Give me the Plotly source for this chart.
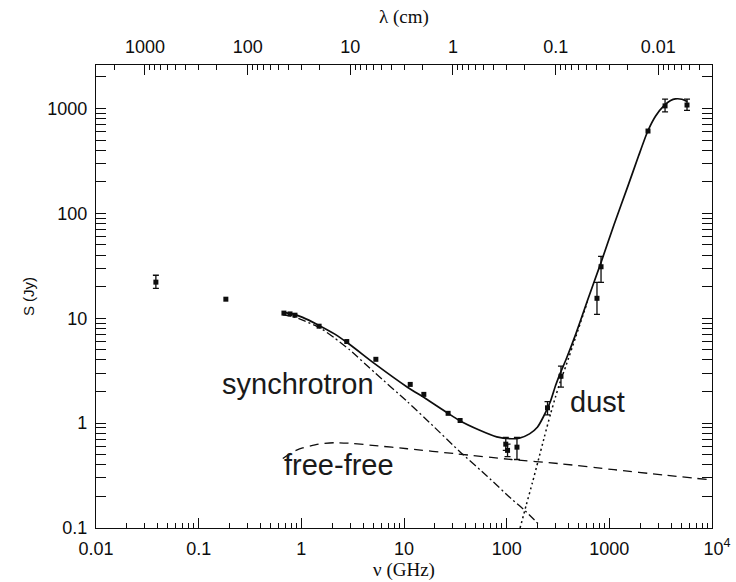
import numpy as np
import plotly.graph_objects as go

# ---------------- data ----------------
# observed points with error bars: frequency (GHz), flux (Jy), +err, -err
nu_err = [0.0383, 98, 102, 126, 250, 338, 758, 830, 3490, 5710]
S_err = [22.1, 0.63, 0.55, 0.59, 1.40, 2.80, 15.5, 31.0, 1060, 1080]
err_hi = [3.6, 0.10, 0.08, 0.14, 0.20, 0.70, 6.5, 8.0, 170, 150]
err_lo = [2.8, 0.08, 0.07, 0.14, 0.20, 0.60, 4.6, 9.0, 130, 120]

# observed points without visible error bars
nu_pts = [0.184, 0.677, 0.776, 0.867, 1.49, 2.77, 5.32, 11.5, 15.6, 26.9, 35.2, 2380]
S_pts = [15.2, 11.2, 11.0, 10.7, 8.4, 6.0, 4.06, 2.34, 1.88, 1.24, 1.06, 610]

# total model (solid)
nu_tot = [0.66, 0.82, 1.03, 1.47, 2.1, 2.94, 5.25, 10.8, 16.2, 25.9, 34.6, 54, 80, 111,
          133, 167, 200, 228, 266, 300, 333, 377, 472, 610, 821, 1110, 1525, 1920,
          2370, 2825, 3390, 3955, 4400, 5085, 5760]
S_tot = [11.4, 11.0, 10.2, 8.6, 7.1, 5.65, 3.65, 2.2, 1.72, 1.27, 1.06, 0.86, 0.74,
         0.71, 0.72, 0.79, 0.92, 1.15, 1.6, 2.3, 3.0, 4.0, 7.1, 14.6, 33, 78, 185,
         350, 610, 850, 1060, 1190, 1235, 1225, 1160]

# synchrotron (dash-dot)
nu_syn = [0.66, 0.82, 1.03, 1.52, 2.1, 2.95, 5.25, 10.8, 19.2, 34.6, 65, 111, 145, 212]
S_syn = [10.8, 10.4, 9.6, 8.1, 6.5, 5.0, 3.0, 1.6, 0.94, 0.54, 0.31, 0.19, 0.152, 0.105]

# free-free (dashed)
nu_ff = [0.66, 0.82, 1.03, 1.47, 2.1, 3.15, 5.25, 10.8, 32.4, 111, 333, 1110, 3390, 9000]
S_ff = [0.46, 0.53, 0.58, 0.63, 0.65, 0.64, 0.61, 0.57, 0.51, 0.45, 0.41, 0.36, 0.32, 0.29]

# dust (dotted)
nu_dust = [135, 155, 178, 203, 233, 266, 300, 333, 377, 472, 610]
S_dust = [0.1, 0.165, 0.27, 0.44, 0.74, 1.2, 1.8, 2.5, 3.5, 6.7, 14.2]

nu_ticks = [0.01, 0.1, 1, 10, 100, 1000, 10000]
nu_ticktext = ["0.01", "0.1", "1", "10", "100", "1000", "&nbsp;&nbsp;10<sup>4</sup>"]
S_ticks = [0.1, 1, 10, 100, 1000]
S_ticktext = ["0.1", "1", "10", "100", "1000"]
lam_ticks = [1000, 100, 10, 1, 0.1, 0.01]
lam_ticktext = ["1000", "100", "10", "1", "0.1", "0.01"]

labels = [("synchrotron", 0.93, 2.36), ("free-free", 2.33, 0.40), ("dust", 760, 1.59)]

# ---------------- figure ----------------
INK = "#0d0d0d"
SANS = "Liberation Sans, Arial, sans-serif"
SERIF = "Liberation Serif, Times New Roman, serif"


def minor_vals(lo, hi):
    return [m * 10.0 ** e for e in range(lo, hi) for m in range(2, 10)]


fig = go.Figure()
fig.add_trace(go.Scatter(x=nu_syn, y=S_syn, mode="lines",
                         line=dict(color=INK, width=1.3, dash="8px,3px,2px,3px", shape="spline", smoothing=0.6),
                         hoverinfo="skip"))
fig.add_trace(go.Scatter(x=nu_ff, y=S_ff, mode="lines",
                         line=dict(color=INK, width=1.3, dash="9px,6px", shape="spline", smoothing=0.6),
                         hoverinfo="skip"))
fig.add_trace(go.Scatter(x=nu_dust, y=S_dust, mode="lines",
                         line=dict(color=INK, width=1.5, dash="2px,3px", shape="spline", smoothing=0.6),
                         hoverinfo="skip"))
fig.add_trace(go.Scatter(x=nu_tot, y=S_tot, mode="lines",
                         line=dict(color=INK, width=1.7, shape="spline", smoothing=0.6),
                         hoverinfo="skip"))
fig.add_trace(go.Scatter(x=nu_pts, y=S_pts, mode="markers",
                         marker=dict(symbol="square", size=5, color=INK)))
fig.add_trace(go.Scatter(x=nu_err, y=S_err, mode="markers",
                         marker=dict(symbol="square", size=5, color=INK),
                         error_y=dict(type="data", symmetric=False, array=err_hi, arrayminus=err_lo,
                                      color=INK, thickness=1.3, width=3)))
# invisible trace on the wavelength axis
fig.add_trace(go.Scatter(x=[30 / 0.01, 30 / 1e4], y=[1, 1], xaxis="x2", mode="markers",
                         marker=dict(opacity=0), hoverinfo="skip"))

for text, xv, yv in labels:
    fig.add_annotation(x=np.log10(xv), y=np.log10(yv), xref="x", yref="y", text=text,
                       showarrow=False, font=dict(family=SANS, size=29, color="#1a1a1a"))

axis_common = dict(type="log", showline=True, linecolor=INK, linewidth=1.3, ticks="inside",
                   ticklen=10, tickwidth=1.1, tickcolor=INK, showgrid=False, zeroline=False,
                   automargin=False, tickfont=dict(family=SANS, size=18, color=INK))

fig.update_layout(
    width=736, height=582,
    margin=dict(l=96, r=24, t=65, b=54),
    paper_bgcolor="white", plot_bgcolor="white",
    showlegend=False,
    xaxis=dict(**axis_common, range=[-2, 4], tickmode="array", tickvals=nu_ticks, ticktext=nu_ticktext,
               ticklabelstandoff=4,
               minor=dict(tickmode="array", tickvals=minor_vals(-2, 4), ticks="inside", ticklen=5,
                          tickcolor=INK, tickwidth=1),
               title=dict(text="ν (GHz)", font=dict(family=SERIF, size=19, color=INK), standoff=3)),
    yaxis=dict(**axis_common, range=[-1, 3.415], tickmode="array", tickvals=S_ticks, ticktext=S_ticktext,
               mirror="allticks", ticklabelstandoff=4,
               minor=dict(tickmode="array", tickvals=minor_vals(-1, 4), ticks="inside", ticklen=5,
                          tickcolor=INK, tickwidth=1),
               title=dict(text="S (Jy)", font=dict(family=SANS, size=15, color=INK), standoff=8)),
    xaxis2=dict(**axis_common, overlaying="x", side="top", anchor="y",
                range=[np.log10(3000), np.log10(0.003)], tickmode="array",
                tickvals=lam_ticks, ticktext=lam_ticktext, ticklabelstandoff=4,
                minor=dict(tickmode="array", tickvals=minor_vals(-3, 4), ticks="inside", ticklen=5,
                           tickcolor=INK, tickwidth=1),
                title=dict(text="λ (cm)", font=dict(family=SERIF, size=19, color=INK), standoff=8)),
)

fig.write_html("out.html")
